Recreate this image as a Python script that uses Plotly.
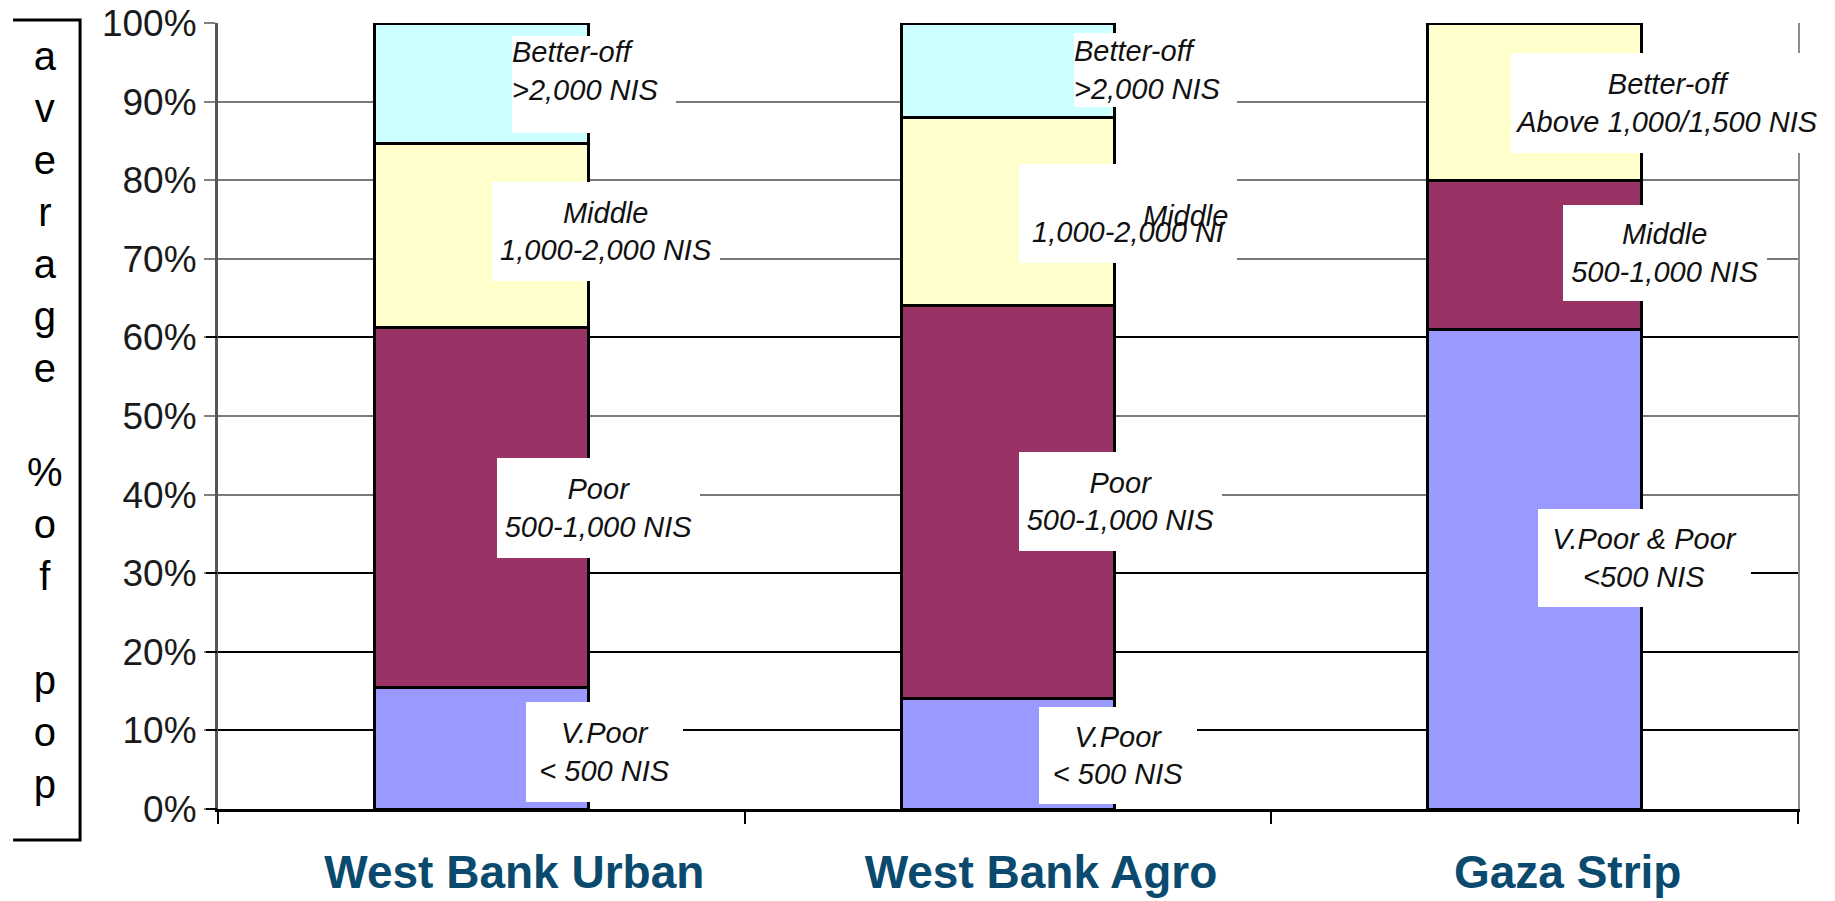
import plotly.graph_objects as go

# ---------------- data ----------------
categories = ["West Bank Urban", "West Bank Agro", "Gaza Strip"]

# stacked segments, bottom to top (% of population)
seg1 = [15.5, 14.0, 61.0]   # V.Poor / V.Poor & Poor
seg2 = [45.7, 50.0, 19.0]   # Poor / Middle (Gaza)
seg3 = [23.5, 24.0, 20.0]   # Middle / Better-off (Gaza)
seg4 = [15.3, 12.0, 0.0]    # Better-off

seg1_labels = ["V.Poor<br>&lt; 500 NIS", "V.Poor<br>&lt; 500 NIS", "V.Poor &amp; Poor<br>&lt;500 NIS"]
seg2_labels = ["Poor<br>500-1,000 NIS", "Poor<br>500-1,000 NIS", "Middle<br>500-1,000 NIS"]
seg3_labels = ["Middle<br>1,000-2,000 NIS", " <br>1,000-2,000 NI", "Better-off<br>Above 1,000/1,500 NIS"]
seg4_labels = ["Better-off<br>&gt;2,000 NIS", "Better-off<br>&gt;2,000 NIS", None]
extra_label = "Middle"   # stray label drawn over the West Bank Agro middle box

y_ticks = [0, 10, 20, 30, 40, 50, 60, 70, 80, 90, 100]
y_tick_text = [f"{v}%" for v in y_ticks]
black_grid = [0, 10, 20, 30, 60]

y_title = "a<br>v<br>e<br>r<br>a<br>g<br>e<br> <br>%<br>o<br>f<br> <br>p<br>o<br>p"

# ---------------- styles ----------------
seg_colors = ["#9999FF", "#993366", "#FFFFCC", "#CCFFFF"]
label_font = dict(family="Liberation Sans, Arial, sans-serif", size=29, color="#111111", style="italic")

# per-label box style: (xshift, yshift, width, height, align, valign)
seg1_style = [(123, -4, 157, 100, "center", "middle"), (110, -2, 158, 97, "center", "middle"), (110, 11, 213, 98, "center", "middle")]
seg2_style = [(117, 0, 203, 100, "center", "middle"), (112, 1, 203, 99, "center", "middle"), (130, 2, 204, 96, "center", "middle")]
seg3_style = [(125, 4, 228, 99, "center", "middle"), (120, -2, 218, 99, "center", "middle"), (132, -1, 311, 100, "center", "middle")]
seg4_style = [(113, -1, 164, 97, "left", "top"), (147, 0, 163, 74, "left", "middle"), None]
extra_style = (177, -4)

segs = [seg1, seg2, seg3, seg4]
labels = [seg1_labels, seg2_labels, seg3_labels, seg4_labels]
styles = [seg1_style, seg2_style, seg3_style, seg4_style]

fig = go.Figure()
for vals, col in zip(segs, seg_colors):
    fig.add_trace(go.Bar(
        x=categories, y=vals,
        marker=dict(color=col, line=dict(color="black", width=3)),
        showlegend=False, hoverinfo="skip",
    ))

# empty helper traces so the overlay axes (black grid lines, right border) are drawn
fig.add_trace(go.Scatter(x=[], y=[], yaxis="y2", showlegend=False, hoverinfo="skip"))
fig.add_trace(go.Scatter(x=[], y=[], yaxis="y3", showlegend=False, hoverinfo="skip"))

# label boxes at segment midpoints
annotations = []
for si, (vals, labs, sty) in enumerate(zip(segs, labels, styles)):
    for ci, cat in enumerate(categories):
        if labs[ci] is None:
            continue
        base = sum(segs[k][ci] for k in range(si))
        mid = base + vals[ci] / 2
        xs, ys, w, h, al, va = sty[ci]
        annotations.append(dict(
            x=cat, y=mid, xref="x", yref="y", text=labs[ci], showarrow=False,
            xanchor="center", yanchor="middle", xshift=xs, yshift=ys,
            width=w, height=h, align=al, valign=va,
            bgcolor="white", borderpad=0, borderwidth=0, font=label_font,
        ))
        if si == 2 and ci == 1:
            annotations.append(dict(
                x=cat, y=mid, xref="x", yref="y", text=extra_label, showarrow=False,
                xanchor="center", yanchor="middle", xshift=extra_style[0], yshift=extra_style[1],
                font=label_font,
            ))

# y axis title (stacked letters)
annotations.append(dict(
    x=-0.1095, y=0.4955, xref="paper", yref="paper", text=y_title, showarrow=False,
    xanchor="center", yanchor="middle", align="center",
    font=dict(family="Liberation Sans, Arial, sans-serif", size=40, color="#000000"),
))

shapes = [dict(
    type="path", xref="paper", yref="paper",
    path="M -0.1297 1.0038 L -0.0873 1.0038 L -0.0873 -0.0394 L -0.1297 -0.0394",
    line=dict(color="black", width=3),
)]

fig.update_layout(
    width=1835, height=901,
    margin=dict(l=218, r=37, t=23, b=92, autoexpand=False),
    paper_bgcolor="white", plot_bgcolor="white",
    barmode="stack", bargap=0.594,
    annotations=annotations, shapes=shapes,
    xaxis=dict(
        type="category", range=[-0.5, 2.5], tickson="boundaries", ticks="outside", ticklen=12, tickwidth=2,
        tickcolor="black", showline=True, linecolor="black", linewidth=3, showgrid=False,
        tickfont=dict(family="Liberation Sans, Arial, sans-serif", size=46, color="#0A4A6E", weight="bold"),
        ticklabelstandoff=21, ticklabelshift=33, automargin=False,
    ),
    yaxis=dict(
        range=[0, 100], tickvals=y_ticks, ticktext=y_tick_text, ticks="outside", ticklen=11,
        tickwidth=2, tickcolor="#808080", showgrid=True, gridcolor="#7a7a7a", gridwidth=2,
        showline=True, linecolor="#555555", linewidth=3, zeroline=False,
        tickfont=dict(family="Liberation Sans, Arial, sans-serif", size=37, color="#1a1a1a"),
        automargin=False,
    ),
    yaxis2=dict(
        overlaying="y", side="left", range=[0, 100], tickvals=black_grid, ticks="outside",
        ticklen=11, tickwidth=2, tickcolor="black", showticklabels=False, showgrid=True,
        gridcolor="black", gridwidth=2, showline=False, zeroline=False, automargin=False,
    ),
    yaxis3=dict(
        overlaying="y", side="right", range=[0, 100], showline=True, linecolor="#8c8c8c",
        linewidth=2, ticks="", showticklabels=False, showgrid=False, zeroline=False, automargin=False,
    ),
)

fig.write_html("out.html", config={"displayModeBar": False},
               post_script="document.body.style.margin='0';")
